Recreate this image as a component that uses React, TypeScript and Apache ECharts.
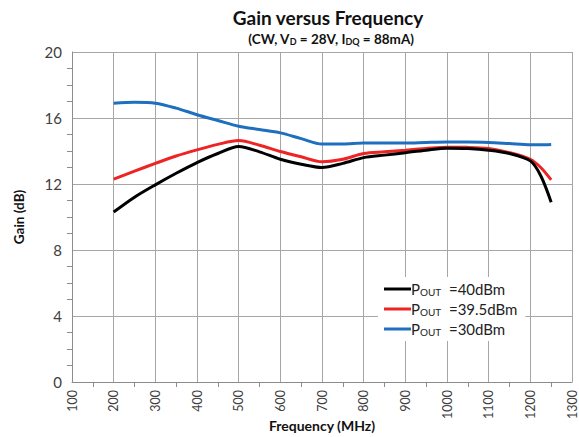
import React, { useEffect, useRef } from "react";
import * as echarts from "echarts";

const freqs = [200, 250, 300, 350, 400, 450, 500, 550, 600, 650, 700, 750, 800, 850, 900, 950, 1000, 1050, 1100, 1150, 1200, 1225, 1250];
const gain40 = [10.3, 11.2, 11.95, 12.65, 13.3, 13.85, 14.27, 13.95, 13.5, 13.2, 13.0, 13.25, 13.6, 13.75, 13.9, 14.05, 14.17, 14.15, 14.05, 13.85, 13.4, 12.5, 10.9];
const gain395 = [12.3, 12.78, 13.25, 13.7, 14.07, 14.4, 14.63, 14.35, 13.97, 13.65, 13.35, 13.5, 13.85, 13.95, 14.05, 14.15, 14.23, 14.22, 14.15, 13.9, 13.5, 13.0, 12.25];
const gain30 = [16.9, 16.95, 16.9, 16.6, 16.2, 15.85, 15.5, 15.3, 15.1, 14.75, 14.42, 14.42, 14.48, 14.48, 14.48, 14.52, 14.55, 14.55, 14.52, 14.45, 14.38, 14.38, 14.4];
const seriesNames = ["40", "39.5", "30"];
const seriesLabels = ["=40dBm", "=39.5dBm", "=30dBm"];
const colors = ["#000000", "#ee2424", "#1f6fbf"];

const FONT = "Lato, 'Open Sans', sans-serif";

export default function App() {
  const ref = useRef<HTMLDivElement>(null);
  useEffect(() => {
    document.body.style.margin = "0";
    const chart = echarts.init(ref.current!, undefined, { renderer: "svg" });
    const datasets = [gain40, gain395, gain30];
    chart.setOption({
      animation: false,
      backgroundColor: "#ffffff",
      textStyle: { fontFamily: FONT },
      title: [
        {
          text: "Gain versus Frequency",
          left: 323,
          top: 3,
          textAlign: "center",
          textStyle: { fontFamily: FONT, fontSize: 19, fontWeight: "bold", color: "#111" },
        },
        {
          text: "{b|(CW, V}{s|D}{b| = 28V, I}{s|DQ}{b| = 88mA)}",
          left: 326,
          top: 25,
          textAlign: "center",
          textStyle: {
            fontFamily: FONT,
            rich: {
              b: { fontFamily: FONT, fontSize: 13.5, fontWeight: "bold", color: "#111", lineHeight: 17 },
              s: { fontFamily: FONT, fontSize: 9, fontWeight: "bold", color: "#111", lineHeight: 17, padding: [6, 0, 0, 0] },
            },
          },
        },
      ],
      grid: { left: 72, right: 7, top: 52, bottom: 55, outerBoundsMode: "none", containLabel: false },
      legend: {
        orient: "vertical",
        left: 378,
        top: 277,
        backgroundColor: "#ffffff",
        padding: [4, 8, 4, 6],
        itemGap: 4,
        itemWidth: 27,
        itemHeight: 3,
        data: seriesNames.map((n) => ({ name: n, icon: "rect" })),
        formatter: (name: string) => {
          const i = seriesNames.indexOf(name);
          return "{p|P}{s|OUT}{p|  " + seriesLabels[i] + "}";
        },
        textStyle: {
          fontFamily: FONT,
          padding: [0, 0, 0, -5],
          rich: {
            p: { fontFamily: FONT, fontSize: 15, color: "#222", lineHeight: 17 },
            s: { fontFamily: FONT, fontSize: 10, color: "#222", lineHeight: 17, padding: [6, 0, 0, 0] },
          },
        },
      },
      xAxis: {
        type: "value",
        min: 100,
        max: 1300,
        interval: 100,
        name: "Frequency (MHz)",
        nameLocation: "middle",
        nameGap: 36,
        nameMoveOverlap: false,
        nameTextStyle: { fontFamily: FONT, fontSize: 14, fontWeight: "bold", color: "#111" },
        axisLine: { show: true, lineStyle: { color: "#8c8c8c", width: 1 } },
        axisTick: { show: false },
        minorTick: { show: true, splitNumber: 2, length: 5, lineStyle: { color: "#8c8c8c" } },
        axisLabel: { rotate: 90, fontFamily: FONT, fontSize: 12.5, color: "#404040", margin: 8, formatter: (v: number) => String(v) },
        splitLine: { show: true, lineStyle: { color: "#a6a6a6", width: 1 } },
      },
      yAxis: {
        type: "value",
        min: 0,
        max: 20,
        interval: 4,
        name: "Gain (dB)",
        nameLocation: "middle",
        nameGap: 46,
        nameMoveOverlap: false,
        nameTextStyle: { fontFamily: FONT, fontSize: 13.5, fontWeight: "bold", color: "#111" },
        axisLine: { show: true, lineStyle: { color: "#8c8c8c", width: 1 } },
        axisTick: { show: false },
        minorTick: { show: true, splitNumber: 4, length: 5, lineStyle: { color: "#8c8c8c" } },
        axisLabel: { fontFamily: FONT, fontSize: 15, color: "#404040", margin: 10 },
        splitLine: { show: true, lineStyle: { color: "#a6a6a6", width: 1 } },
      },
      series: seriesNames.map((n, i) => ({
        name: n,
        type: "line",
        smooth: 0.3,
        symbol: "none",
        color: colors[i],
        lineStyle: { color: colors[i], width: 3 },
        data: freqs.map((f, j) => [f, datasets[i][j]]),
        z: 3 - i,
      })),
    });
    return () => chart.dispose();
  }, []);
  return <div ref={ref} style={{ width: 579, height: 437 }} />;
}
